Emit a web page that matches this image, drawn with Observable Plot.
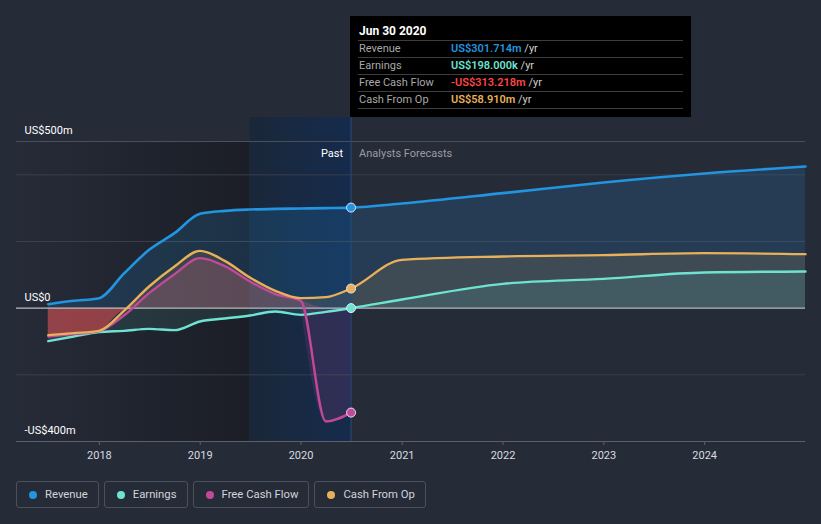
<!DOCTYPE html>
<html>
<head>
<meta charset="utf-8">
<script src="https://cdn.jsdelivr.net/npm/d3@7"></script>
<script src="https://cdn.jsdelivr.net/npm/@observablehq/plot@0.6"></script>
<style>
  html, body { margin: 0; padding: 0; background: #262b38; }
  #wrap { position: relative; width: 821px; height: 524px; background: #262b38; font-family: Roboto, "Noto Sans", sans-serif; overflow: hidden; }
  #chart svg { display: block; }
  #tip { position: absolute; left: 350px; top: 16px; width: 341px; height: 101px; background: #000; color: #fff; font-size: 11px; }
  #tip .title { position: absolute; left: 9px; top: 8px; font-weight: bold; font-size: 12px; }
  #tip .sep { position: absolute; left: 8px; width: 325px; height: 1px; background: #3d3d3d; }
  #tip .row { position: absolute; left: 9px; width: 325px; height: 17px; line-height: 17px; }
  #tip .lab { position: absolute; left: 0; color: #a8a8a8; }
  #tip .val { position: absolute; left: 92px; font-weight: 600; white-space: nowrap; }
  #tip .unit { color: #d0d0d0; font-weight: 400; }
  #legend { position: absolute; left: 16px; top: 481px; display: flex; gap: 5px; }
  .item { box-sizing: border-box; height: 27px; border: 1px solid #4b505c; border-radius: 3px; display: flex; align-items: center; padding: 0 10px 0 12px; color: #d2d4d8; font-size: 11.3px; white-space: nowrap; }
  .dot { width: 8px; height: 8px; border-radius: 50%; margin-right: 8px; }
</style>
</head>
<body>
<div id="wrap">
  <div id="chart"></div>
  <div id="tip"></div>
  <div id="legend"></div>
</div>
<script>
// ---------- data (US$ millions) ----------
const pastDates = ["2017-06-30","2017-09-30","2017-12-31","2018-03-31","2018-06-30","2018-09-30","2018-12-31","2019-03-31","2019-06-30","2019-09-30","2019-12-31","2020-03-31","2020-06-30"];
const revenuePast  = [12, 22, 30, 104, 175, 225, 283, 292, 296, 298, 299, 300, 301.714];
const earningsPast = [-99, -85, -72, -68, -62, -66, -40, -31, -22, -10, -20, -11, 0.198];
const fcfPast      = [-85, -78, -69, -22, 45, 102, 150, 126, 80, 42, 22, -340, -313.218];
const cfoPast      = [-81, -75, -68, -8, 65, 125, 172, 142, 92, 52, 30, 33, 58.91];

const forecastDates = ["2020-12-31","2021-12-31","2022-12-31","2023-12-31","2024-12-31"];
const revenueFc  = [314, 345, 377, 404, 425];
const earningsFc = [26, 73, 88, 107, 110];
const cfoFc      = [145, 155, 159, 165, 162];

const yearTicks = ["2018-01-01","2019-01-01","2020-01-01","2021-01-01","2022-01-01","2023-01-01","2024-01-01"];
const yLabelValues = [500, 0, -400];
const yLabelTexts = ["US$500m", "US$0", "-US$400m"];
const gridValues = [400, 200, -200];

const seriesNames = ["Revenue", "Earnings", "Free Cash Flow", "Cash From Op"];
const seriesColors = ["#2394df", "#6fe3d1", "#c2489a", "#e8b05a"];

const tipDate = "Jun 30 2020";
const tipValues = ["US$301.714m", "US$198.000k", "-US$313.218m", "US$58.910m"];
const tipColors = ["#2394df", "#6fe3d1", "#ff4545", "#e8b05a"];

const domainStart = "2017-03-07";
const domainEnd = "2024-12-31";
const highlightStart = "2019-06-30";
const nowDate = "2020-06-30";
const fcfDropStart = "2019-12-31";

// ---------- build tables ----------
const P = d => new Date(d + "T00:00:00Z");
function build(pastVals, fcVals) {
  const rows = pastDates.map((d, i) => ({date: P(d), v: pastVals[i]}));
  if (fcVals) forecastDates.forEach((d, i) => rows.push({date: P(d), v: fcVals[i]}));
  return rows;
}
const revenue = build(revenuePast, revenueFc);
const earnings = build(earningsPast, earningsFc);
const fcf = build(fcfPast, null);
const cfo = build(cfoPast, cfoFc);
const fcfDrop = fcf.filter(d => d.date >= P(fcfDropStart));
const nowPoints = [
  {date: P(nowDate), v: revenuePast[12], c: seriesColors[0]},
  {date: P(nowDate), v: earningsPast[12], c: seriesColors[1]},
  {date: P(nowDate), v: cfoPast[12], c: seriesColors[3]},
  {date: P(nowDate), v: fcfPast[12], c: seriesColors[2]}
];

const defsMark = () => {
  const ns = "http://www.w3.org/2000/svg";
  const g = document.createElementNS(ns, "defs");
  g.innerHTML = `
    <linearGradient id="pastGrad" x1="0" x2="1" y1="0" y2="0">
      <stop offset="0" stop-color="#262b38"/>
      <stop offset="1" stop-color="#1b1e26"/>
    </linearGradient>
    <linearGradient id="hiGrad" x1="0" x2="1" y1="0" y2="0">
      <stop offset="0" stop-color="#1a2739"/>
      <stop offset="1" stop-color="#152b4c"/>
    </linearGradient>`;
  return g;
};

const curve = "monotone-x";
const chart = Plot.plot({
  width: 821,
  height: 470,
  marginLeft: 16,
  marginRight: 16,
  marginTop: 141,
  marginBottom: 29,
  style: {background: "transparent", fontFamily: "Roboto, sans-serif", overflow: "visible"},
  x: {type: "utc", domain: [P(domainStart), P(domainEnd)], axis: null},
  y: {domain: [-400, 500], axis: null},
  marks: [
    defsMark,
    Plot.rect([{x1: P(domainStart), x2: P(highlightStart)}], {x1: "x1", x2: "x2", y1: -400, y2: 500, fill: "url(#pastGrad)"}),
    Plot.rect([{x1: P(highlightStart), x2: P(nowDate)}], {x1: "x1", x2: "x2", y1: -400, y2: 572, fill: "url(#hiGrad)"}),
    Plot.ruleY(gridValues, {stroke: "#3a3f4b", strokeWidth: 1}),
    Plot.ruleY([500], {stroke: "#4a4f5b", strokeWidth: 1}),
    // areas
    Plot.areaY(revenue, {x: "date", y1: 0, y2: "v", fill: seriesColors[0], fillOpacity: 0.17, curve}),
    Plot.areaY(cfo, {x: "date", y1: 0, y2: d => Math.max(d.v, 0), fill: seriesColors[3], fillOpacity: 0.13, curve}),
    Plot.areaY(fcf, {x: "date", y1: 0, y2: d => Math.max(d.v, 0), fill: "#e06a8a", fillOpacity: 0.22, curve}),
    Plot.areaY(fcfDrop, {x: "date", y1: 0, y2: d => Math.min(d.v, 0), fill: seriesColors[2], fillOpacity: 0.15, curve}),
    Plot.areaY(earnings, {x: "date", y1: 0, y2: "v", fill: seriesColors[1], fillOpacity: 0.1, curve}),
    Plot.areaY(cfo, {x: "date", y1: 0, y2: d => Math.min(d.v, 0), fill: "#e8484d", fillOpacity: 0.55, curve}),
    // zero line and now line
    Plot.ruleY([0], {stroke: "#b9bcc2", strokeWidth: 1.2}),
    Plot.ruleX([P(nowDate)], {y1: -400, y2: 572, stroke: "#28497a", strokeWidth: 1}),
    // lines
    Plot.lineY(revenue, {x: "date", y: "v", stroke: seriesColors[0], strokeWidth: 2.6, curve}),
    Plot.lineY(earnings, {x: "date", y: "v", stroke: seriesColors[1], strokeWidth: 2.4, curve}),
    Plot.lineY(fcf, {x: "date", y: "v", stroke: seriesColors[2], strokeWidth: 2.4, curve}),
    Plot.lineY(cfo, {x: "date", y: "v", stroke: seriesColors[3], strokeWidth: 2.4, curve}),
    Plot.dot(nowPoints, {x: "date", y: "v", fill: "c", r: 4.5, stroke: "#e6e6ee", strokeWidth: 1}),
    // labels
    Plot.text(yLabelValues, {x: P(domainStart), y: d => d, text: (d, i) => yLabelTexts[i], textAnchor: "start", dx: 8, dy: -11, fill: "#ffffff", fontSize: 11}),
    Plot.text(["Past"], {x: P(nowDate), y: 500, text: d => d, textAnchor: "end", dx: -8, dy: 12, fill: "#ffffff", fontSize: 11}),
    Plot.text(["Analysts Forecasts"], {x: P(nowDate), y: 500, text: d => d, textAnchor: "start", dx: 8, dy: 12, fill: "#9a9ca3", fontSize: 11}),
    Plot.ruleY([-400], {stroke: "#5b606b", strokeWidth: 1}),
    Plot.axisX(yearTicks.map(P), {tickFormat: d3.utcFormat("%Y"), tickSize: 4, stroke: "#5b606b", fill: "#d9dbe0", fontSize: 11, tickPadding: 6, label: null})
  ]
});
document.getElementById("chart").appendChild(chart);

// ---------- tooltip ----------
const tip = document.getElementById("tip");
let html = `<div class="title">${tipDate}</div>`;
const sepTops = [24, 41, 58, 75, 92];
sepTops.forEach(t => html += `<div class="sep" style="top:${t}px"></div>`);
seriesNames.forEach((n, i) => {
  html += `<div class="row" style="top:${sepTops[i] + 0}px"><span class="lab">${n}</span><span class="val" style="color:${tipColors[i]}">${tipValues[i]} <span class="unit">/yr</span></span></div>`;
});
tip.innerHTML = html;

// ---------- legend ----------
const legend = document.getElementById("legend");
seriesNames.forEach((n, i) => {
  const it = document.createElement("div");
  it.className = "item";
  it.innerHTML = `<span class="dot" style="background:${seriesColors[i]}"></span>${n}`;
  legend.appendChild(it);
});
</script>
</body>
</html>
